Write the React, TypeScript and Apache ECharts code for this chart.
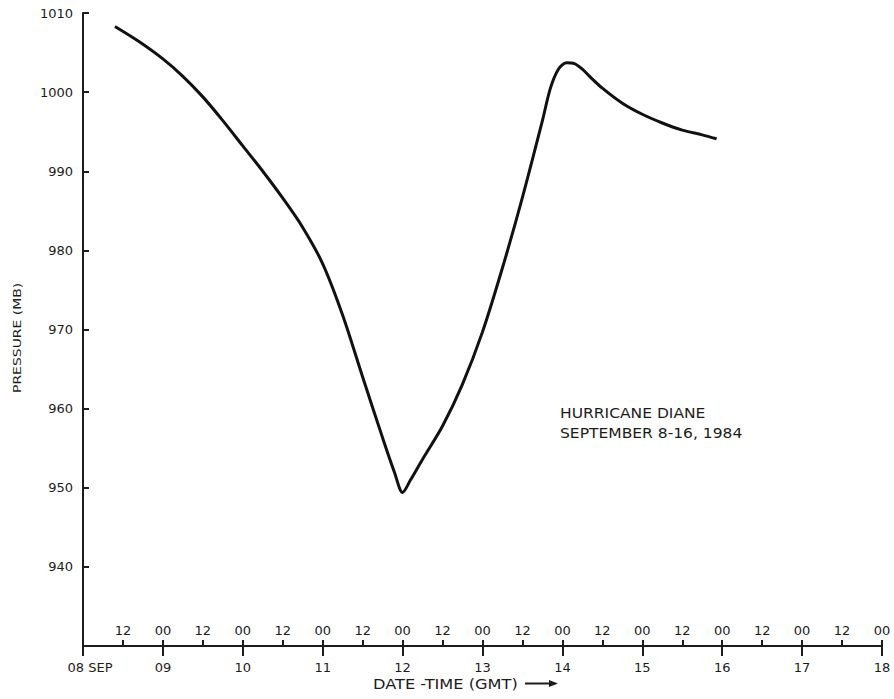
import React, { useEffect, useRef } from "react";
import * as echarts from "echarts";

// Time in days after 08 SEP 00 GMT
const timeDays = [0.4, 0.7, 1.0, 1.25, 1.5, 1.75, 2.0, 2.25, 2.5, 2.75, 3.0, 3.25, 3.5, 3.75, 3.9, 4.0, 4.1, 4.25, 4.5, 4.75, 5.0, 5.25, 5.5, 5.75, 5.85, 5.95, 6.05, 6.15, 6.25, 6.35, 6.5, 6.75, 7.0, 7.25, 7.5, 7.75, 7.93];
// Pressure (mb)
const pressure = [1008.3, 1006.4, 1004.2, 1002.0, 999.4, 996.4, 993.2, 990.0, 986.6, 982.9, 978.3, 971.8, 964.0, 956.3, 951.9, 949.4, 951.0, 953.6, 957.8, 963.1, 969.7, 977.8, 986.7, 996.4, 1000.5, 1002.9, 1003.7, 1003.6, 1002.9, 1001.9, 1000.5, 998.6, 997.2, 996.1, 995.2, 994.6, 994.1];

const dayLabels = ["08 SEP", "09", "10", "11", "12", "13", "14", "15", "16", "17", "18"];
const hourLabels = ["00", "12"];
const yTicks = [940, 950, 960, 970, 980, 990, 1000, 1010];
const titleLines = ["HURRICANE DIANE", "SEPTEMBER 8-16, 1984"];
const xName = "DATE -TIME (GMT)";
const yName = "PRESSURE (MB)";

const FONT = "DejaVu Sans";
const INK = "#1c1c1c";

export default function App() {
  const ref = useRef<HTMLDivElement>(null);
  useEffect(() => {
    if (!ref.current) return;
    const chart = echarts.init(ref.current, null, { renderer: "svg" });
    const data = timeDays.map((t, i) => [t, pressure[i]]);
    chart.setOption({
      animation: false,
      backgroundColor: "#ffffff",
      grid: { left: 83, right: 12, top: 13, bottom: 53, containLabel: false },
      xAxis: [
        {
          type: "value",
          min: 0,
          max: 10,
          interval: 1,
          position: "bottom",
          axisLine: { show: true, onZero: false, lineStyle: { color: INK, width: 2 } },
          axisTick: { show: true, inside: false, length: 10, lineStyle: { color: INK, width: 2 } },
          splitLine: { show: false },
          axisLabel: {
            margin: 15,
            color: INK,
            fontFamily: FONT,
            fontSize: 13,
            formatter: (v: number) => {
              const i = Math.round(v);
              if (i === 0) return "{a|" + dayLabels[0] + "}";
              return dayLabels[i] ?? "";
            },
            rich: { a: { fontFamily: FONT, fontSize: 13, color: INK, padding: [0, 0, 0, 14] } },
          },
        },
        {
          type: "value",
          min: 0,
          max: 10,
          interval: 0.5,
          position: "bottom",
          axisLine: { show: false, onZero: false },
          axisTick: { show: true, inside: true, length: 6, lineStyle: { color: INK, width: 2 } },
          splitLine: { show: false },
          axisLabel: {
            inside: true,
            margin: 9,
            color: INK,
            fontFamily: FONT,
            fontSize: 13,
            formatter: (v: number) => {
              if (v === 0) return "";
              return Math.abs(v - Math.round(v)) < 1e-6 ? hourLabels[0] : hourLabels[1];
            },
          },
        },
      ],
      yAxis: {
        type: "value",
        min: 930,
        max: 1010,
        interval: 10,
        axisLine: { show: true, onZero: false, lineStyle: { color: INK, width: 2 } },
        axisTick: { show: true, inside: true, length: 6, lineStyle: { color: INK, width: 2 } },
        splitLine: { show: false },
        axisLabel: {
          margin: 10,
          color: INK,
          fontFamily: FONT,
          fontSize: 13,
          formatter: (v: number) => (yTicks.includes(v) ? String(v) : ""),
        },
      },
      series: [
        {
          type: "line",
          xAxisIndex: 0,
          data,
          smooth: 0.3,
          showSymbol: false,
          lineStyle: { color: "#111111", width: 3 },
        },
      ],
      graphic: [
        {
          type: "text",
          x: 560,
          y: 403,
          scaleX: 1.15,
          style: {
            text: titleLines.join("\n"),
            font: `13.5px "${FONT}"`,
            fill: INK,
            lineHeight: 20,
            textAlign: "left",
            textVerticalAlign: "top",
          },
        },
        {
          type: "text",
          x: 373,
          y: 677,
          scaleX: 1.2,
          style: { text: xName, font: `13.5px "${FONT}"`, fill: INK, textAlign: "left", textVerticalAlign: "top" },
        },
        {
          type: "line",
          shape: { x1: 525, y1: 683.5, x2: 555, y2: 683.5 },
          style: { stroke: INK, lineWidth: 2 },
        },
        {
          type: "polygon",
          shape: { points: [[558, 683.5], [549, 680], [549, 687]] },
          style: { fill: INK },
        },
        {
          type: "text",
          x: 12,
          y: 393,
          rotation: Math.PI / 2,
          scaleX: 1.33,
          style: { text: yName, font: `10.5px "${FONT}"`, fill: INK, textAlign: "left", textVerticalAlign: "top" },
        },
      ],
    });
    return () => chart.dispose();
  }, []);
  return <div ref={ref} style={{ position: "fixed", left: 0, top: 0, width: 894, height: 699 }} />;
}
